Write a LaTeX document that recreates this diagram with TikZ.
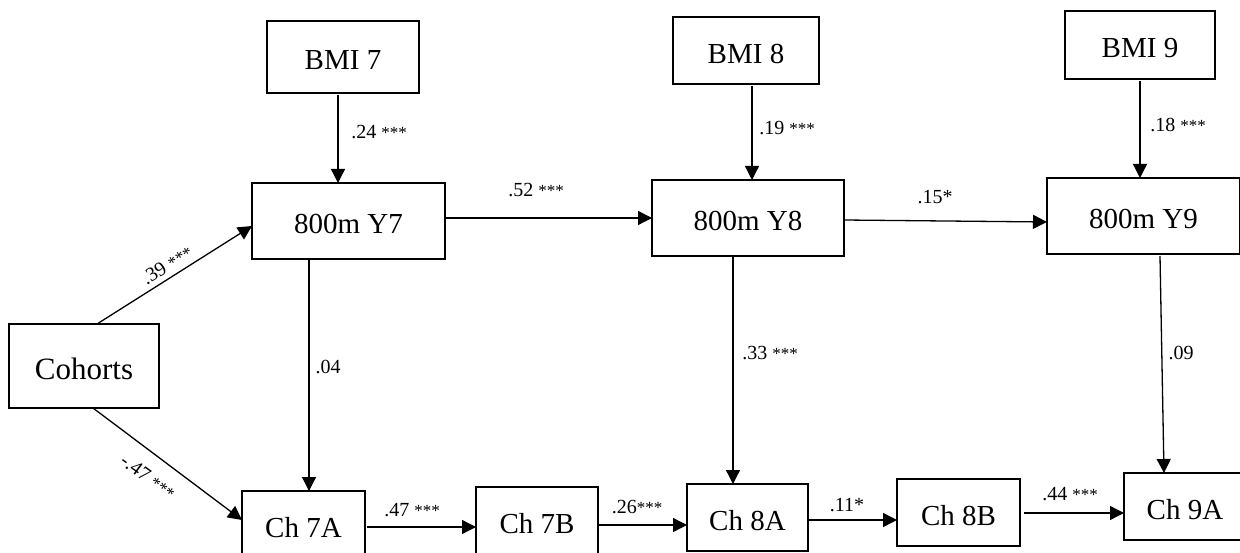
\documentclass[tikz,border=0pt]{standalone}
\usepackage{fontspec}
\setmainfont{Liberation Serif}
\usetikzlibrary{arrows.meta}
\newcommand{\sig}[1]{{\fontsize{17}{17}\selectfont #1}}
\begin{document}
\begin{tikzpicture}[x=1pt,y=-1pt,
  box/.style={draw, line width=1.3pt, inner sep=0pt, outer sep=0pt,
    font=\fontsize{29}{29}\selectfont, text height=26pt, text depth=0pt, align=center},
  arr/.style={line width=1.3pt, -{Triangle[length=14pt,width=14pt]}},
  lab/.style={font=\fontsize{20}{20}\selectfont, inner sep=0pt}]
\useasboundingbox (0,0) rectangle (1240,553);
\clip (0,0) rectangle (1240,553);
% boxes
\node[box, minimum width=152pt, minimum height=72pt] (BMI7) at (343,57) {BMI 7};
\node[box, minimum width=146pt, minimum height=67pt] (BMI8) at (746,50.5) {BMI 8};
\node[box, minimum width=150pt, minimum height=68pt] (BMI9) at (1140,45) {BMI 9};
\node[box, minimum width=193pt, minimum height=76pt] (Y7) at (348.5,221) {800m Y7};
\node[box, minimum width=192pt, minimum height=76pt] (Y8) at (748,218) {800m Y8};
\node[box, minimum width=193pt, minimum height=76pt] (Y9) at (1143.5,216) {800m Y9};
\node[box, minimum width=150pt, minimum height=84pt, font=\fontsize{31}{31}\selectfont] (Co) at (84,366) {Cohorts};
\node[box, minimum width=123pt, minimum height=67pt] (A7) at (303.5,524.5) {Ch 7A};
\node[box, minimum width=122pt, minimum height=67pt] (B7) at (537,520.5) {Ch 7B};
\node[box, minimum width=121pt, minimum height=67pt] (A8) at (747.5,517.5) {Ch 8A};
\node[box, minimum width=123pt, minimum height=67pt] (B8) at (958.5,512.5) {Ch 8B};
\node[box, minimum width=122pt, minimum height=67pt] (A9) at (1185,506.5) {Ch 9A};
% connectors
\draw[arr] ([xshift=-5pt,yshift=-2pt]BMI7.south) -- ([xshift=-10.5pt]Y7.north);
\draw[arr] ([xshift=6pt,yshift=-2pt]BMI8.south) -- ([xshift=4pt]Y8.north);
\draw[arr] ([yshift=-2pt]BMI9.south) -- ([xshift=-3.5pt]Y9.north);
\draw[arr] ([yshift=3pt]Y7.east) -- (Y8.west);
\draw[arr] ([yshift=-2pt]Y8.east) -- ([yshift=-6pt]Y9.west);
\draw[arr] ([xshift=13pt]Co.north) -- ([yshift=-5pt]Y7.west);
\draw[arr] ([xshift=9pt]Co.south) -- ([yshift=4.5pt]A7.west);
\draw[arr] ([xshift=-39.5pt]Y7.south) -- ([xshift=5.5pt]A7.north);
\draw[arr] ([xshift=-15pt]Y8.south) -- ([xshift=-14.5pt]A8.north);
\draw[arr] ([xshift=16.5pt,yshift=-2pt]Y9.south) -- ([xshift=-21pt]A9.north);
\draw[arr] ([xshift=2pt,yshift=-2.5pt]A7.east) -- ([yshift=-6.5pt]B7.west);
\draw[arr] ([yshift=-4.5pt]B7.east) -- ([yshift=-7.5pt]A8.west);
\draw[arr] ([yshift=-2.5pt]A8.east) -- ([yshift=-7.5pt]B8.west);
\draw[arr] ([xshift=4pt,yshift=-0.5pt]B8.east) -- ([yshift=-6.5pt]A9.west);
% labels
\node[lab] (l24) at (379,132) {.24 \sig{***}};
\node[lab] (l19) at (787,128) {.19 \sig{***}};
\node[lab] (l18) at (1178,125) {.18 \sig{***}};
\node[lab] (l52) at (536,190) {.52 \sig{***}};
\node[lab] (l15) at (935,197) {.15*};
\node[lab, rotate=32] (l39) at (167,265) {.39 \sig{***}};
\node[lab, rotate=-36] (l47n) at (148,477) {-.47 \sig{***}};
\node[lab] (l04) at (328,367) {.04};
\node[lab] (l33) at (770,353) {.33 \sig{***}};
\node[lab] (l09) at (1181,353) {.09};
\node[lab] (l47) at (412,510) {.47 \sig{***}};
\node[lab] (l26) at (637,507) {.26\sig{***}};
\node[lab] (l11) at (847,505) {.11*};
\node[lab] (l44) at (1070,494) {.44 \sig{***}};
\end{tikzpicture}
\end{document}
